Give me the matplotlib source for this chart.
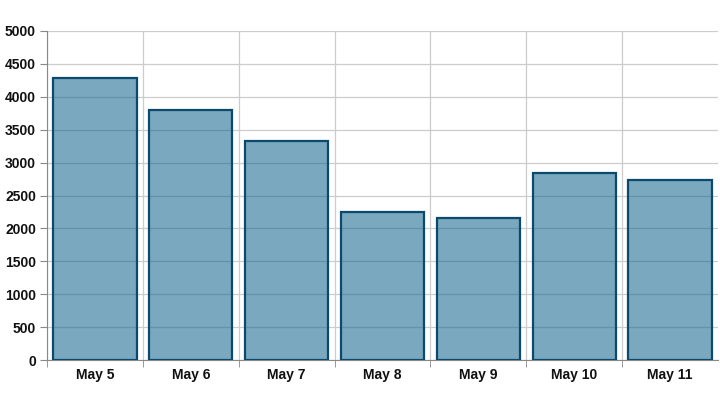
import numpy as np
import matplotlib
matplotlib.use("Agg")
import matplotlib.pyplot as plt

days = ["May 5", "May 6", "May 7", "May 8", "May 9", "May 10", "May 11"]
counts = [4290, 3800, 3330, 2252, 2160, 2845, 2742]
y_ticks = [0, 500, 1000, 1500, 2000, 2500, 3000, 3500, 4000, 4500, 5000]

plt.rcParams['font.family'] = ['Liberation Sans', 'DejaVu Sans']

fig = plt.figure(figsize=(7.2, 4.05), dpi=100)
ax = fig.add_axes([47 / 720, 45 / 405, 671 / 720, 329 / 405])

x = np.arange(len(days))
ax.bar(x, counts, width=0.87, color=(26/255, 105/255, 145/255, 0.58),
       edgecolor="#0b4a6c", linewidth=1.6, zorder=3)

ax.set_xlim(-0.5, len(days) - 0.5)
ax.set_ylim(0, 5000)
ax.set_yticks(y_ticks)
ax.set_xticks(x)
ax.set_xticklabels(days)
# category boundaries (no line at the far right)
ax.set_xticks(np.arange(-0.5, len(days) - 1), minor=True)

ax.grid(True, axis="y", color="#cccccc", linewidth=0.9, zorder=1)
ax.grid(True, axis="x", which="minor", color="#cccccc", linewidth=0.9, zorder=1)
ax.grid(False, axis="x", which="major")

for s in ["top", "right"]:
    ax.spines[s].set_visible(False)
ax.spines["left"].set_color("#888888")
ax.spines["bottom"].set_color("#888888")

ax.tick_params(axis="x", which="major", length=0, pad=6, labelsize=10)
ax.tick_params(axis="x", which="minor", length=5, color="#888888")
ax.tick_params(axis="y", length=5, color="#888888", pad=3, labelsize=10)
for lab in ax.get_xticklabels() + ax.get_yticklabels():
    lab.set_fontweight("bold")
    lab.set_color("#111111")

fig.savefig("out.png", dpi=100)
